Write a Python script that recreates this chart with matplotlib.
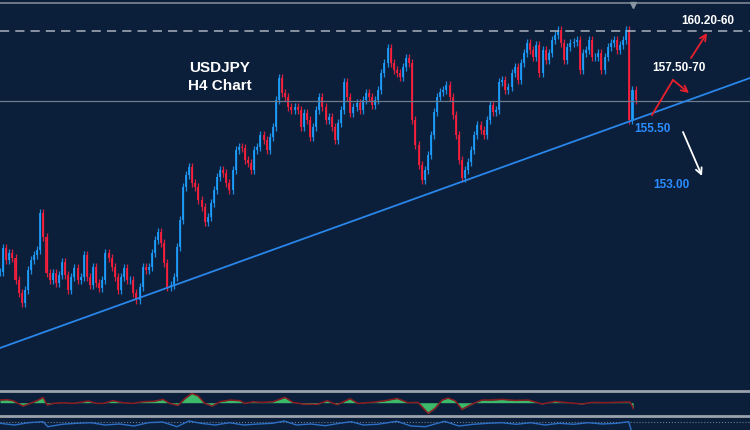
import matplotlib
matplotlib.use("Agg")
import matplotlib.pyplot as plt
import numpy as np

# H4 closes (price)
closes = [
    148.35, 149.55, 148.95, 149.30, 149.05, 147.95, 147.30, 146.80, 147.45, 148.45,
    148.95, 149.20, 149.45, 151.30, 150.10, 148.30, 147.95, 148.30, 147.80, 148.20,
    148.85, 148.20, 147.45, 148.10, 148.55, 147.95, 148.10, 149.20, 148.10, 147.70,
    148.60, 147.80, 147.55, 147.95, 149.30, 149.05, 148.60, 148.10, 147.45, 148.10,
    148.55, 147.95, 147.95, 147.30, 146.95, 147.60, 148.60, 148.45, 148.60, 149.30,
    149.95, 150.35, 149.80, 148.80, 147.60, 147.70, 148.10, 149.60,
    150.95, 152.60, 153.20, 153.60, 152.80, 152.60, 151.95, 151.60, 150.85, 151.10,
    151.80, 152.45, 153.10, 153.45, 153.30, 152.80, 152.45, 153.45, 154.45, 154.60,
    154.55, 153.95, 153.80, 153.45, 154.45, 154.60, 155.20, 154.95, 154.45, 155.10,
    155.60, 156.95, 158.05, 157.30, 157.10, 156.60,
    156.45, 156.60, 156.45, 155.60, 156.30, 155.95, 155.10, 155.60, 156.45, 157.10,
    156.60, 155.95, 156.10, 155.60, 154.95, 155.80, 156.45, 157.85, 157.10, 156.30,
    156.60, 156.80, 156.45, 156.95, 157.30, 157.10, 156.70, 156.95, 157.45, 158.30,
    158.80, 159.55, 158.80, 158.45, 158.30, 158.10, 158.60, 159.05, 158.80,
    155.95, 154.70, 153.70, 152.95, 153.45, 154.20, 155.20, 156.35, 157.10, 157.35,
    157.45, 157.70, 157.10, 156.20, 155.20, 153.95, 153.05, 153.45, 153.85, 154.45,
    155.20, 155.70, 155.45, 155.20, 155.95, 156.70, 156.35, 156.45,
    157.85, 157.95, 157.45, 157.60, 158.30, 158.60, 157.95, 158.80, 159.30, 159.80,
    159.45, 159.10, 159.70, 158.30, 159.45, 158.95, 159.30, 159.95, 160.20, 160.45,
    159.80, 158.95, 159.60, 159.80, 159.85, 159.95, 158.45, 159.30, 159.45, 159.95,
    159.10, 159.10, 159.30, 158.45, 159.10, 159.60, 159.80, 159.95, 159.45, 159.70,
    159.95, 160.45,
    155.95, 157.45, 156.95,
]

resistance = 160.40
mid_level = 156.90
trend_x = [0, 241.9]
trend_y = [144.55, 158.05]

# oscillator panel (bar index, value)
osc_x = [0, 2.3, 4.2, 7.4, 9.7, 11.9, 13.9, 15.2, 17.1, 20.3, 23.5, 25.8, 28.4, 31.3,
         33.2, 36.5, 39.7, 42.9, 46.1, 49.4, 52.6, 54.8, 57.4, 59.7, 61.9, 63.9, 66.1,
         68.4, 71, 74.2, 77.4, 79, 81.6, 84.5, 88.1, 91.9, 94.5, 97.7, 102.3, 105.5,
         108.7, 112.9, 115.5, 118.4, 121, 124.2, 128.1, 131.6, 134.8, 136.1, 138.1,
         140.3, 142.6, 144.5, 146.8, 149, 151, 153.2, 155.5, 158.7, 161.9, 166.1, 170.3,
         173.5, 174.8, 179, 183.2, 187.7, 191, 195.2, 198.4, 201.6, 203.2, 203.9, 204.2]
osc_v = [2.7, 3, 2, -3.3, -0.7, 2, 5.3, -2.3, -0.7, 0, -0.7, 0.3, 1.7, -0.7,
         -0.7, 2, 0, -0.7, 1, 1.3, 3.3, -0.7, -2.7, 4.3, 9.3, 6.7, -0.7,
         -3.3, 1, 2.7, 2, -0.7, 1, 0.3, 1, 5.3, 0.3, -1.3, -1.7, 2,
         -2, 4, -0.7, 0, 0.7, 2, 4.3, 0, 0.3, -4, -10.7,
         -5.7, 2.7, 4.7, 2, -6.7, -3.3, 0, 2.7, 2.7, 3.3, 2.3, 2.7,
         0, -1.3, 1.3, 0, -1.3, 0.3, 0, 0.3, 0.7, 0.7, -3.3, -5.7]

# bottom strip line
sub_x = [0, 4.6, 9.3, 13.9, 15.4, 20, 24.7, 29.3, 33.9, 38.6, 43.2, 47.8, 52.4, 57.1,
         60.9, 64.8, 69.4, 74, 78.6, 83.3, 87.9, 91.7, 95.6, 100.2, 104.9, 109.5,
         113.3, 117.2, 121.8, 128, 132.6, 137.2, 143.4, 148, 152.7, 157.3, 161.9,
         166.5, 171.2, 175.8, 180.4, 185, 189.7, 194.3, 198.9, 202.8, 203.5]
sub_v = [6.7, 5, 7.3, 8.3, 3.3, 5.7, 6.7, 7.3, 5, 6, 4, 7.3, 8, 3.3,
         9, 6.7, 5, 7.3, 5, 6, 6.7, 9, 5, 6, 4.3, 6.7,
         8.3, 5, 5.7, 8.7, 4, 3.3, 8.7, 4, 5.7, 6.7, 7.3,
         5.7, 7.3, 5, 6.7, 5.7, 7.3, 6, 6.7, 8.3, 0.7]

BG = "#0b1f3b"
UP = "#1ea0ff"
DN = "#ff1f3d"
ARROW_RED = "#e8202e"
LBL_BLUE = "#2b8cff"
FONT = "Liberation Sans"

fig = plt.figure(figsize=(7.5, 4.3), dpi=100, facecolor=BG)

# main price panel
ax = fig.add_axes([0, 41 / 430, 1, 385 / 430])
ax.set_axis_off()
c = np.array(closes)
o = np.r_[c[0], c[:-1]]
x = np.arange(len(c))
cols = np.where(c >= o, UP, DN)
hi = np.maximum(o, c) + 0.2
lo = np.minimum(o, c) - 0.2
ax.vlines(x, lo, hi, colors=cols, lw=0.9, alpha=0.85)
ax.bar(x, c - o, bottom=o, width=0.65, color=cols, alpha=0.85)
ax.axhline(resistance, color="#a9b3bf", ls=(0, (6, 4)), lw=1.1)
ax.axhline(mid_level, color="#6f7c8b", lw=0.9)
ax.plot(trend_x, trend_y, color="#2a86e8", lw=1.3)
ax.set_xlim(0, 241.9)
ax.set_ylim(142.5, 161.75)

# oscillator panel
ax2 = fig.add_axes([0, 16 / 430, 1, 22 / 430])
ax2.set_axis_off()
ax2.fill_between(osc_x, osc_v, 0, color="#3cb96a", lw=0)
ax2.plot(osc_x, osc_v, color="#8b1c22", lw=1.1)
ax2.set_xlim(0, 241.9)
ax2.set_ylim(-11.3, 10.7)

# bottom strip
ax3 = fig.add_axes([0, 0, 1, 13 / 430])
ax3.set_axis_off()
ax3.axhline(7.7, color="#6c7a8c", ls=":", lw=0.8)
ax3.plot(sub_x, sub_v, color="#2d6fc4", lw=1)
ax3.set_xlim(0, 241.9)
ax3.set_ylim(0, 13)

# overlay in pixel coords for separators, labels and arrows
ov = fig.add_axes([0, 0, 1, 1])
ov.set_xlim(0, 750)
ov.set_ylim(430, 0)
ov.set_axis_off()
ov.patch.set_alpha(0)
ov.axhline(2.5, color="#7d8794", lw=1.2)
ov.axhline(390.7, color="#9aa3ad", lw=2)
ov.axhline(415.7, color="#9aa3ad", lw=2)
ov.plot(633, 5, marker="v", color="#8a93a0", ms=5)

ov.text(220, 68, "USDJPY", color="white", fontsize=11, fontweight="bold",
        family=FONT, ha="center", va="center")
ov.text(220, 86, "H4 Chart", color="white", fontsize=11, fontweight="bold",
        family=FONT, ha="center", va="center")
ov.text(708, 21.5, "160.20-60", color="white", fontsize=8.5, fontweight="bold",
        family=FONT, ha="center", va="center")
ov.text(679, 68, "157.50-70", color="white", fontsize=8.5, fontweight="bold",
        family=FONT, ha="center", va="center")
ov.text(652, 128.5, "155.50", color=LBL_BLUE, fontsize=8.5, fontweight="bold",
        family=FONT, ha="center", va="center")
ov.text(671, 185, "153.00", color=LBL_BLUE, fontsize=8.5, fontweight="bold",
        family=FONT, ha="center", va="center")

ap = dict(arrowstyle="->", lw=1.3, mutation_scale=11, shrinkA=0, shrinkB=0)
ov.annotate("", xy=(707, 33), xytext=(691, 58), arrowprops=dict(ap, color=ARROW_RED))
ov.plot([652, 673], [115, 80], color=ARROW_RED, lw=1.3)
ov.annotate("", xy=(689, 93), xytext=(673, 80), arrowprops=dict(ap, color=ARROW_RED))
ov.annotate("", xy=(702, 176), xytext=(683, 132), arrowprops=dict(ap, color="white"))

fig.savefig("out.png", dpi=100, facecolor=BG)
